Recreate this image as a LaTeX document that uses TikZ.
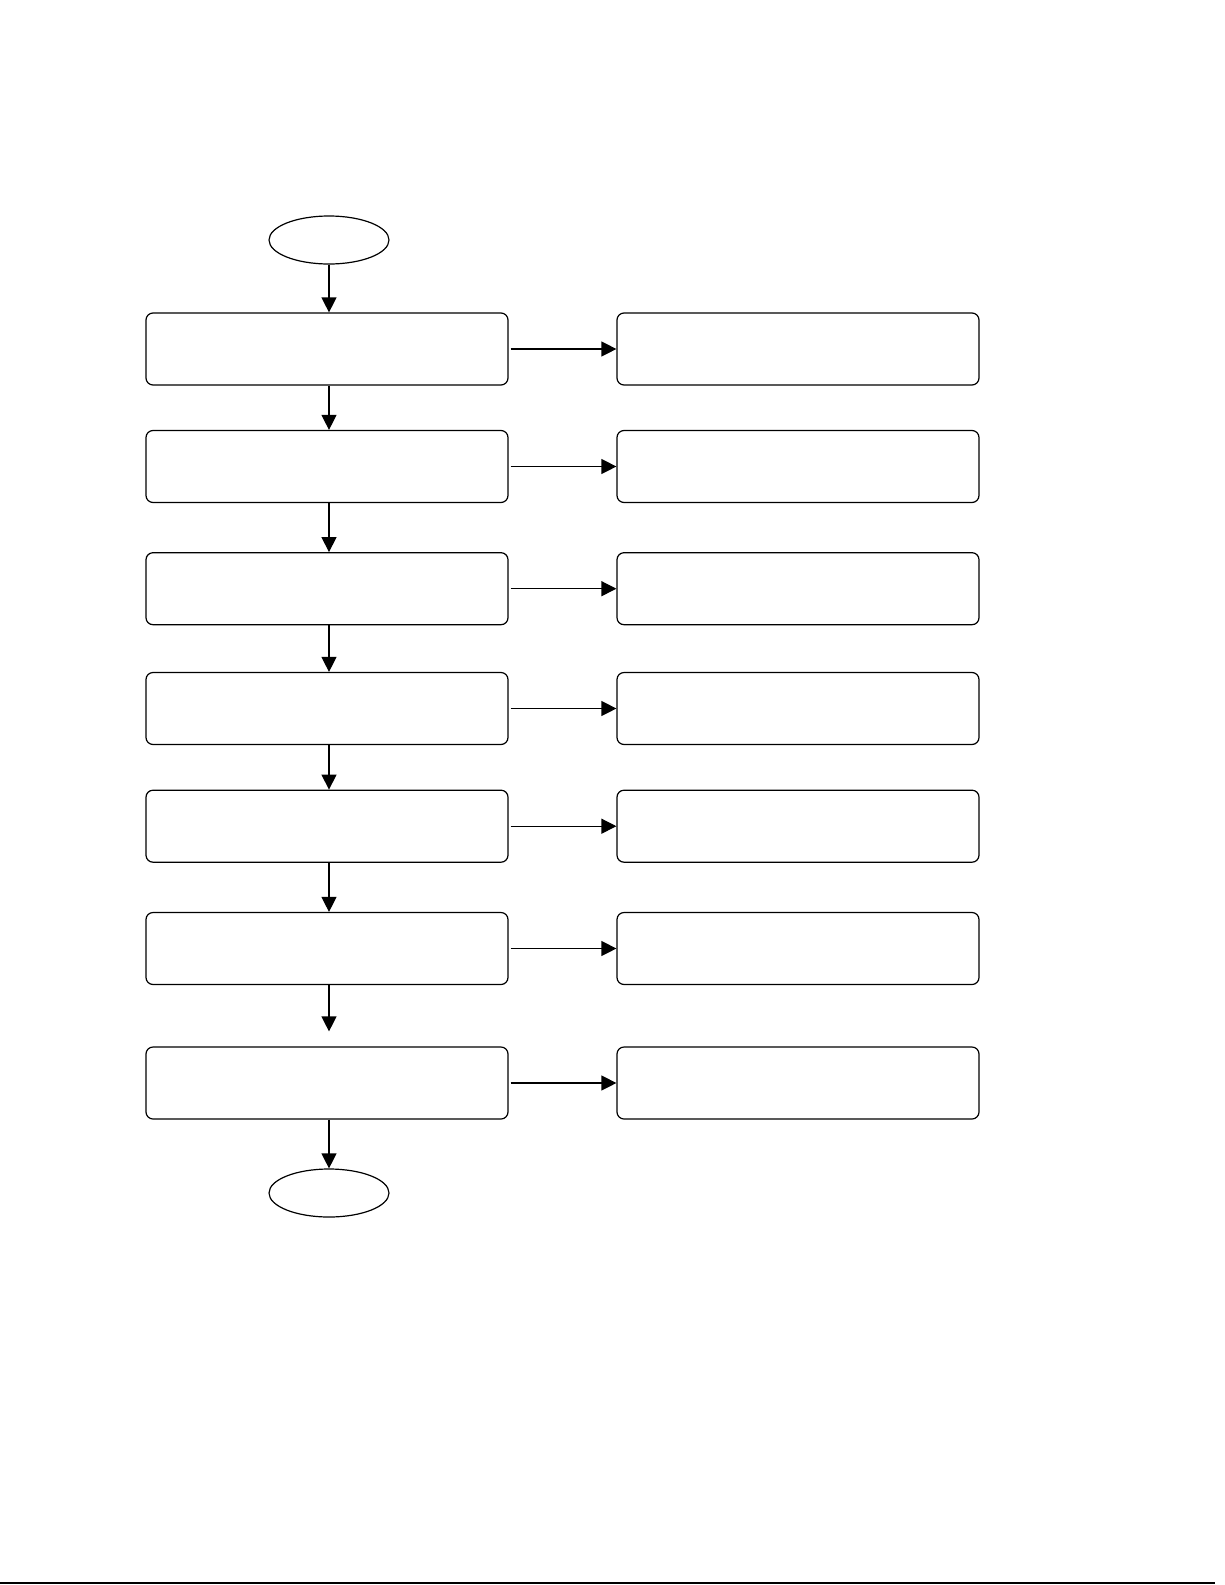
\documentclass[tikz,border=0pt]{standalone}
\usetikzlibrary{arrows.meta,shapes.geometric}
\tikzset{>={Triangle[length=15pt,width=15pt]},
 stepbox/.style={draw,rounded corners=7pt,minimum width=362pt,minimum height=72pt,
 line width=1.2pt,inner sep=0pt},
 term/.style={draw,ellipse,minimum width=120pt,minimum height=48pt,line width=1.2pt,inner sep=0pt},
 flow/.style={->,line width=1.2pt}}
\begin{document}
\begin{tikzpicture}[x=1pt,y=-1pt]
\useasboundingbox (0,0) rectangle (1225,1585);
\node[term] (start) at (329,240) {};
\foreach \i/\y in {1/349,2/466.5,3/588.7,4/708.5,5/826.2,6/948.5,7/1083}
 {\node[stepbox] (m\i) at (327,\y) {};\node[stepbox] (r\i) at (798,\y) {};
 \draw[flow] ([xshift=2pt]m\i.east)--(r\i.west);}
\node[term] (end) at (329,1193) {};
\draw[flow] (start.south)--(start.south|-m1.north);
\foreach \a/\b in {1/2,2/3,3/4,4/5,5/6}\draw[flow] ([xshift=2pt]m\a.south)--([xshift=2pt]m\b.north);
\draw[flow,shorten >=15pt] ([xshift=2pt]m6.south)--([xshift=2pt]m7.north);
\draw[flow] ([xshift=2pt]m7.south)--(end.north);
\draw[line width=2pt] (0,1583)--(1215,1583);
\end{tikzpicture}
\end{document}
